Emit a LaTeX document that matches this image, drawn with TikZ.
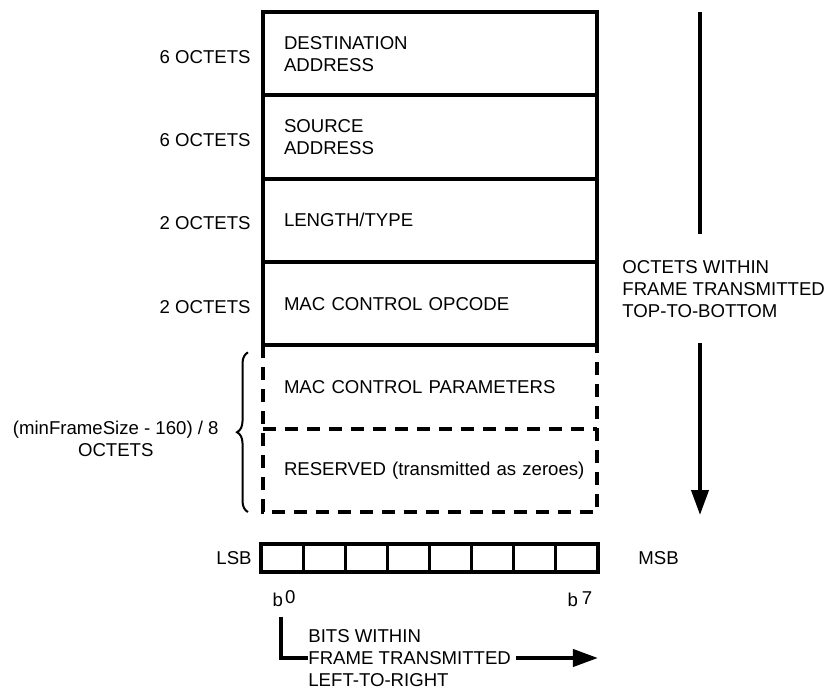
\documentclass[tikz,border=0pt]{standalone}
\usepackage{fontspec}
\setmainfont{Liberation Sans}
\usetikzlibrary{positioning,arrows.meta,decorations.pathreplacing}

\tikzset{
  field/.style={rectangle, outer sep=0pt, minimum height=41.67pt, text width=146pt,
    inner xsep=10.5pt, inner ysep=0pt, align=left},
  solidfield/.style={field, draw, line width=2pt},
  dashline/.style={line width=2pt, dash pattern=on 6.5pt off 4.5pt},
  octets/.style={inner sep=0pt, yshift=-1.5pt},
  bitcell/.style={draw, line width=1.6pt, outer sep=0pt, minimum width=21.06pt,
    minimum height=14pt, inner sep=0pt},
  flow/.style={line width=2pt, -{Triangle[length=12.5pt,width=8.5pt]}},
  note/.style={inner sep=0pt, align=left},
}

\begin{document}
\begin{tikzpicture}[x=0.5pt,y=-0.5pt,font=\fontsize{9.3}{11}\selectfont]
\useasboundingbox (0,0) rectangle (826,690);

% frame fields
\node[solidfield, anchor=north west] (dst) at (263,12) {DESTINATION\\ADDRESS};
\node[solidfield, below=0pt of dst] (src) {SOURCE\\ADDRESS};
\node[solidfield, below=0pt of src] (lentype) {LENGTH/TYPE};
\node[solidfield, below=0pt of lentype] (opcode) {MAC CONTROL OPCODE};
\node[field, below=0pt of opcode] (params) {MAC CONTROL PARAMETERS};
\node[field, below=0pt of params] (rsvd) {\mbox{RESERVED (transmitted as zeroes)}};
\draw[dashline] (params.north west) rectangle (rsvd.south east);
\draw[dashline] (params.south west) -- (params.south east);

% sizes
\node[octets, left=6pt of dst] (dstlen) {6 OCTETS};
\node[octets, left=6pt of src] (srclen) {6 OCTETS};
\node[octets, left=6pt of lentype] (ltlen) {2 OCTETS};
\node[octets, left=6pt of opcode] (oplen) {2 OCTETS};

\draw[line width=1pt, decorate, decoration={brace, amplitude=5.5pt}]
  ([xshift=-7.5pt]rsvd.south west) -- ([xshift=-7.5pt,yshift=-3.5pt]params.north west);
\coordinate (brtip) at ([xshift=-13pt]params.south west);
\node[note, align=center, anchor=east] (sizelbl) at ([xshift=-9pt,yshift=-5pt]brtip)
  {(minFrameSize - 160) / 8\\OCTETS};

% octet order
\coordinate (octtop) at (700,12);
\coordinate (octend) at (700,515);
\node[note, anchor=west] (octnote) at (622,289) {OCTETS WITHIN\\FRAME TRANSMITTED\\TOP-TO-BOTTOM};
\draw[line width=2pt] (octtop) -- ([yshift=13pt]octnote.north -| octtop);
\draw[flow] ([yshift=-12.5pt]octnote.south -| octtop) -- (octend);

% bit order
\node[bitcell, anchor=north west] (bit0) at (261,544) {};
\foreach \i [count=\j from 0] in {1,...,7}
  \node[bitcell, right=0pt of bit\j] (bit\i) {};
\node[octets, yshift=1.5pt, left=4.5pt of bit0] (lsb) {LSB};
\node[octets, yshift=1.5pt, right=20pt of bit7] (msb) {MSB};
\node[anchor=base, inner sep=0pt] (b0) at ([yshift=-17pt,xshift=1pt]bit0.south) {b\hspace{1pt}\raisebox{1.5pt}{0}};
\node[anchor=base, inner sep=0pt] (b7) at ([yshift=-17pt,xshift=1.5pt]bit7.south) {b\hspace{2pt}\raisebox{1pt}{7}};

\node[note, anchor=west] (bitsnote) at (308,658) {BITS WITHIN\\FRAME TRANSMITTED\\LEFT-TO-RIGHT};
\coordinate (bitsend) at (bit7.east |- bitsnote.west);
\draw[line width=2pt] ([yshift=-5pt,xshift=-1.5pt]b0.south) |- (bitsnote.west);
\draw[flow] ([xshift=2.5pt]bitsnote.east) -- (bitsend);
\end{tikzpicture}
\end{document}
